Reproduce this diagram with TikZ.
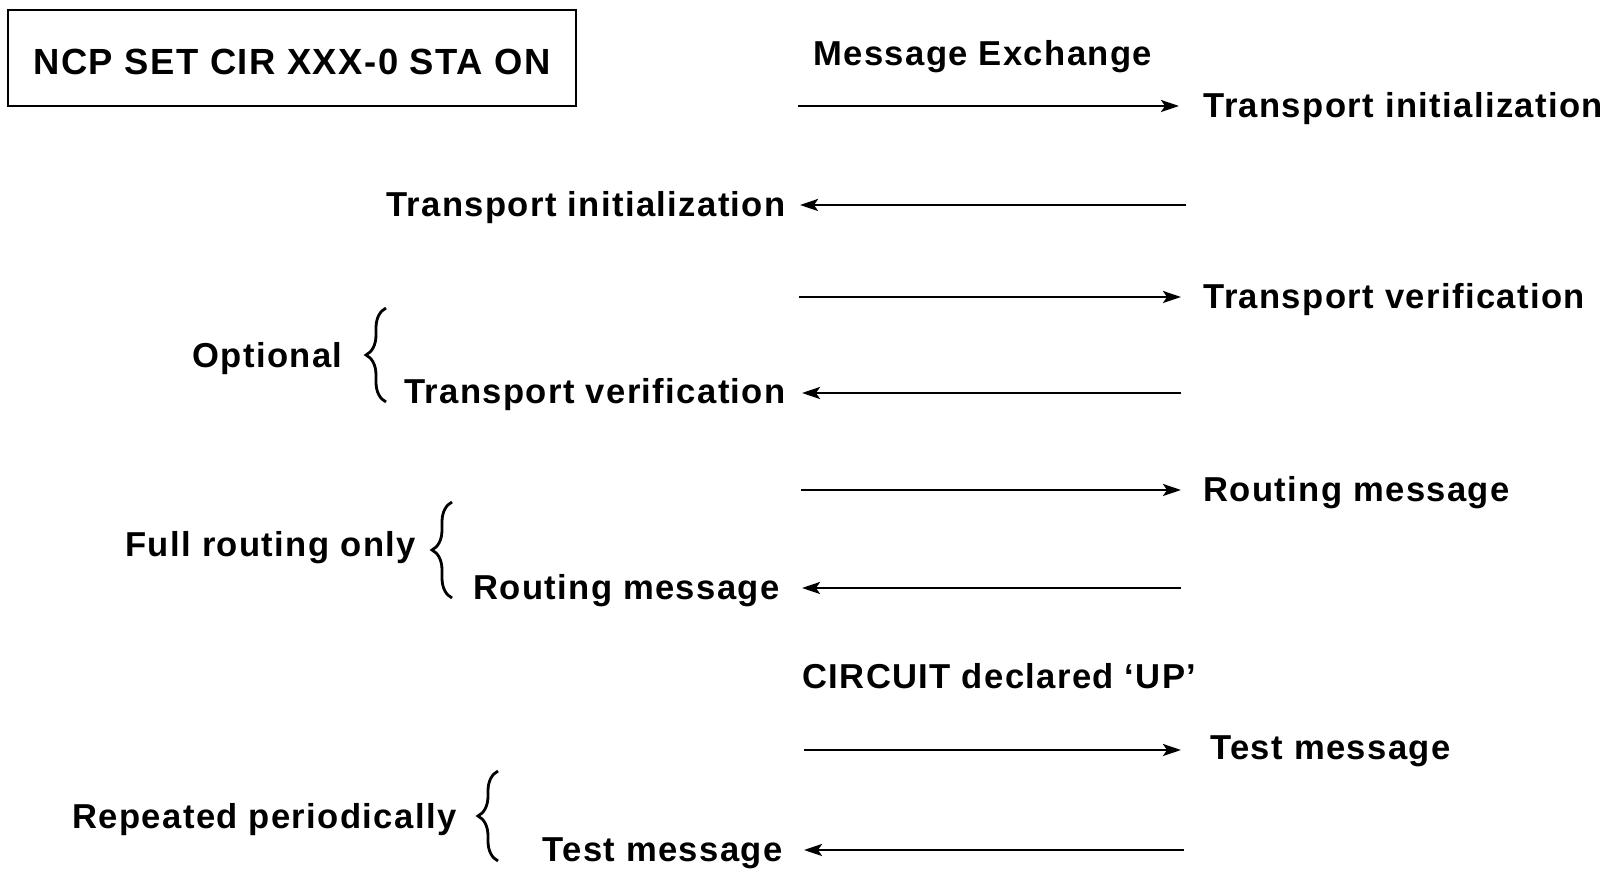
\documentclass[tikz,border=0pt]{standalone}
\usepackage{fontspec}
\setmainfont{Liberation Sans}[LetterSpace=4]
\usetikzlibrary{arrows.meta,decorations.pathreplacing}
\begin{document}
\begin{tikzpicture}[x=0.5pt,y=-0.5pt,
  lbl/.style={font=\fontsize{17.3}{20}\selectfont\bfseries, inner sep=0pt},
  msg/.style={line width=1.25pt, -{Stealth[length=9pt,width=6pt,inset=2pt]}},
  brc/.style={line width=1.4pt, decorate, decoration={brace,amplitude=10pt}}]
\useasboundingbox (0,0) rectangle (1608,870);

% command box
\node[draw, line width=1pt, minimum width=284pt, minimum height=48pt, inner sep=0pt] (cmd) at (292,58) {};
\node[lbl, font=\fontsize{18.2}{21}\selectfont\bfseries, anchor=base] (cmdtext) at (292,75) {NCP SET CIR XXX-0 STA ON};

\node[lbl, anchor=base west] (title) at (813,66) {Message Exchange};

% row 1
\coordinate (a1s) at (798,106); \coordinate (a1e) at (1179,106);
\draw[msg] (a1s) -- (a1e);
\node[lbl, anchor=base west] (r1) at (1203,118) {Transport initialization};

% row 2
\coordinate (a2s) at (1186,205); \coordinate (a2e) at (800,205);
\draw[msg] (a2s) -- (a2e);
\node[lbl, anchor=base east] (l2) at (786,217) {Transport initialization};

% row 3
\coordinate (a3s) at (799,297); \coordinate (a3e) at (1181,297);
\draw[msg] (a3s) -- (a3e);
\node[lbl, anchor=base west] (r3) at (1203,309) {Transport verification};

% row 4
\coordinate (a4s) at (1181,393); \coordinate (a4e) at (802,393);
\draw[msg] (a4s) -- (a4e);
\node[lbl, anchor=base east] (l4) at (786,404) {Transport verification};

\node[lbl, anchor=base west] (opt) at (192,368) {Optional};
\coordinate (b1b) at (386,402); \coordinate (b1t) at (386,308);
\draw[brc] (b1b) -- (b1t);

% row 5
\coordinate (a5s) at (801,490); \coordinate (a5e) at (1181,490);
\draw[msg] (a5s) -- (a5e);
\node[lbl, anchor=base west] (r5) at (1203,502) {Routing message};

% row 6
\coordinate (a6s) at (1181,588); \coordinate (a6e) at (802,588);
\draw[msg] (a6s) -- (a6e);
\node[lbl, anchor=base east] (l6) at (780,600) {Routing message};

\node[lbl, anchor=base west] (full) at (125,557) {Full routing only};
\coordinate (b2b) at (452,598); \coordinate (b2t) at (452,502);
\draw[brc] (b2b) -- (b2t);

\node[lbl, anchor=base west] (up) at (802,689) {CIRCUIT declared `UP'};

% row 7
\coordinate (a7s) at (804,750); \coordinate (a7e) at (1181,750);
\draw[msg] (a7s) -- (a7e);
\node[lbl, anchor=base west] (r7) at (1210,760) {Test message};

% row 8
\coordinate (a8s) at (1184,850); \coordinate (a8e) at (804,850);
\draw[msg] (a8s) -- (a8e);
\node[lbl, anchor=base east] (l8) at (783,862) {Test message};

\node[lbl, anchor=base west] (rep) at (72,829) {Repeated periodically};
\coordinate (b3b) at (498,861); \coordinate (b3t) at (498,771);
\draw[brc] (b3b) -- (b3t);
\end{tikzpicture}
\end{document}
